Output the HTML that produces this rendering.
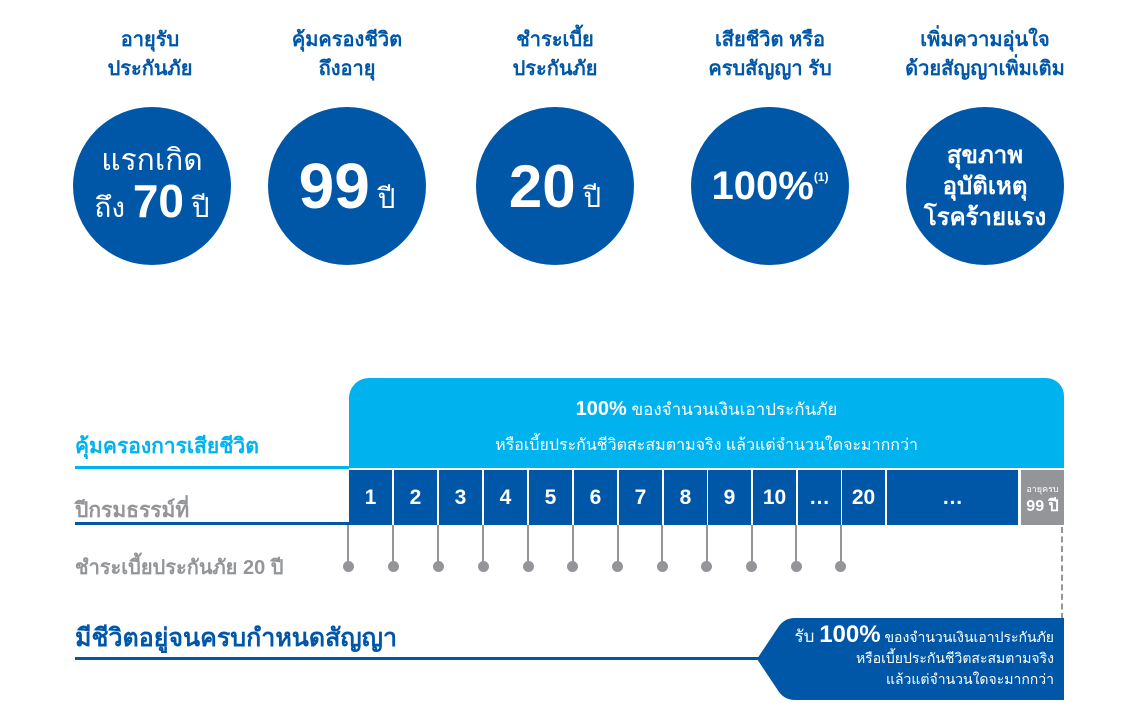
<!DOCTYPE html>
<html><head><meta charset="utf-8"><style>
*{margin:0;padding:0;box-sizing:border-box}
body{width:1140px;height:708px;background:#fff;position:relative;overflow:hidden;font-family:"Liberation Sans","Noto Sans CJK SC",sans-serif}
.a{position:absolute}
.h{color:#0057a8;font-weight:bold;font-size:20px;text-align:center;line-height:29px;width:220px}
.c{background:#0057a8;border-radius:50%;width:158px;height:158px;color:#fff;display:flex;flex-direction:column;align-items:center;justify-content:center;text-align:center}
.cell{background:#0057a8;color:#fff;font-weight:bold;font-size:21px;height:55px;top:470px;display:flex;align-items:center;justify-content:center}
.ln{background:#939598;width:2px;top:525px;height:42px}
.dot{background:#939598;width:11px;height:11px;border-radius:50%;top:561px}
</style></head><body>
<div class="a h" style="left:40px;top:26px">อายุรับ<br>ประกันภัย</div>
<div class="a h" style="left:237px;top:26px">คุ้มครองชีวิต<br>ถึงอายุ</div>
<div class="a h" style="left:445px;top:26px">ชำระเบี้ย<br>ประกันภัย</div>
<div class="a h" style="left:660px;top:26px">เสียชีวิต หรือ<br>ครบสัญญา รับ</div>
<div class="a h" style="left:875px;top:26px">เพิ่มความอุ่นใจ<br>ด้วยสัญญาเพิ่มเติม</div>

<div class="a c" style="left:73px;top:107px"><div style="font-size:30px;line-height:36px">แรกเกิด</div><div style="font-size:28px;line-height:44px">ถึง <b style="font-size:46px">70</b> ปี</div></div>
<div class="a c" style="left:268px;top:107px"><div style="font-size:28px"><b style="font-size:64px">99</b> ปี</div></div>
<div class="a c" style="left:476px;top:107px"><div style="font-size:28px"><b style="font-size:60px">20</b> ปี</div></div>
<div class="a c" style="left:691px;top:107px"><div style="font-size:40px;font-weight:bold">100%<sup style="font-size:12px;vertical-align:18px">(1)</sup></div></div>
<div class="a c" style="left:906px;top:107px"><div style="font-size:24px;line-height:31px;font-weight:bold">สุขภาพ<br>อุบัติเหตุ<br>โรคร้ายแรง</div></div>

<div class="a" style="left:349px;top:378px;width:715px;height:90px;background:#00b3ee;border-radius:20px 18px 0 0;color:#fff;text-align:center">
<div style="font-size:17px;margin-top:18px"><b style="font-size:20px">100%</b> ของจำนวนเงินเอาประกันภัย</div>
<div style="font-size:16px;margin-top:10px">หรือเบี้ยประกันชีวิตสะสมตามจริง แล้วแต่จำนวนใดจะมากกว่า</div></div>

<div class="a" style="left:75px;top:430px;color:#00b3ee;font-weight:bold;font-size:21px">คุ้มครองการเสียชีวิต</div>
<div class="a" style="left:75px;top:466px;width:274px;height:3px;background:#00b3ee"></div>
<div class="a" style="left:75px;top:494px;color:#939598;font-weight:bold;font-size:21px">ปีกรมธรรม์ที่</div>
<div class="a" style="left:75px;top:522px;width:274px;height:3px;background:#0057a8"></div>
<div class="a" style="left:75px;top:551px;color:#939598;font-weight:bold;font-size:20px">ชำระเบี้ยประกันภัย 20 ปี</div>
<div class="a" style="left:75px;top:618px;color:#0057a8;font-weight:bold;font-size:25px">มีชีวิตอยู่จนครบกำหนดสัญญา</div>
<div class="a" style="left:75px;top:657px;width:685px;height:3px;background:#0057a8"></div>

<div class="a cell" style="left:349px;width:43px">1</div>
<div class="a cell" style="left:394px;width:43px">2</div>
<div class="a cell" style="left:439px;width:43px">3</div>
<div class="a cell" style="left:484px;width:43px">4</div>
<div class="a cell" style="left:529px;width:43px">5</div>
<div class="a cell" style="left:574px;width:43px">6</div>
<div class="a cell" style="left:619px;width:43px">7</div>
<div class="a cell" style="left:664px;width:43px">8</div>
<div class="a cell" style="left:708px;width:43px">9</div>
<div class="a cell" style="left:753px;width:43px">10</div>
<div class="a cell" style="left:798px;width:43px">…</div>
<div class="a cell" style="left:842px;width:43px">20</div>
<div class="a cell" style="left:887px;width:131px">…</div>
<div class="a cell" style="left:1021px;width:43px;background:#939598;flex-direction:column;font-size:16px;line-height:18px"><span style="font-size:9px;font-weight:normal">อายุครบ</span>99 ปี</div>

<div class="a ln" style="left:347px"></div><div class="a dot" style="left:343px"></div>
<div class="a ln" style="left:392px"></div><div class="a dot" style="left:388px"></div>
<div class="a ln" style="left:437px"></div><div class="a dot" style="left:433px"></div>
<div class="a ln" style="left:482px"></div><div class="a dot" style="left:478px"></div>
<div class="a ln" style="left:527px"></div><div class="a dot" style="left:523px"></div>
<div class="a ln" style="left:572px"></div><div class="a dot" style="left:567px"></div>
<div class="a ln" style="left:617px"></div><div class="a dot" style="left:612px"></div>
<div class="a ln" style="left:661px"></div><div class="a dot" style="left:657px"></div>
<div class="a ln" style="left:706px"></div><div class="a dot" style="left:701px"></div>
<div class="a ln" style="left:751px"></div><div class="a dot" style="left:746px"></div>
<div class="a ln" style="left:795px"></div><div class="a dot" style="left:791px"></div>
<div class="a ln" style="left:840px"></div><div class="a dot" style="left:835px"></div>
<div class="a" style="left:1061px;top:527px;height:92px;border-left:2px dashed #939598"></div>

<svg class="a" style="left:0;top:0" width="1140" height="708"><path d="M1064,618 L795,618 Q785,618 779,626 L757,659 L779,692 Q785,700 795,700 L1064,700 Z" fill="#0057a8"/></svg>
<div class="a" style="right:86px;top:624px;color:#fff;text-align:right;font-size:14px;line-height:21px">
<div><span style="font-size:17px">รับ </span><b style="font-size:24px">100%</b> ของจำนวนเงินเอาประกันภัย</div>
<div>หรือเบี้ยประกันชีวิตสะสมตามจริง</div><div>แล้วแต่จำนวนใดจะมากกว่า</div></div>
</body></html>
